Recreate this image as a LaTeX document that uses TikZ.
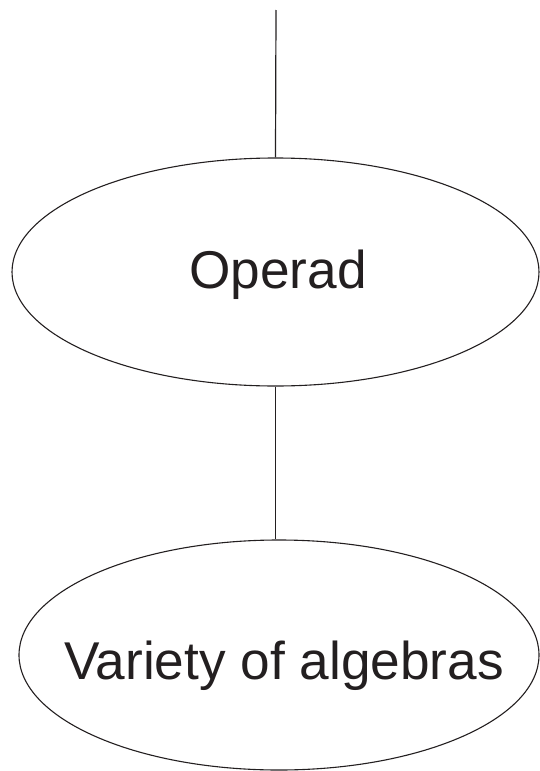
\documentclass[tikz,border=0pt]{standalone}
\usepackage{fontspec}
\setmainfont{Liberation Sans}
\usetikzlibrary{shapes.geometric}
\definecolor{ink}{HTML}{231F20}
\begin{document}
\begin{tikzpicture}[x=1pt,y=-1pt,
  oval/.style={draw=ink,line width=1.1pt,ellipse,inner sep=0pt},
  lbl/.style={inner sep=0pt,anchor=base,text=ink,font=\fontsize{53.2}{60}\selectfont},
  wire/.style={draw=ink,line width=1.2pt}]
\useasboundingbox (0,0) rectangle (540,771);
\node[oval,minimum width=527pt,minimum height=228pt] (e1) at (275.5,272) {};
\node[oval,minimum width=520pt,minimum height=230pt] (e2) at (279,655) {};
\node[lbl] (t1) at (278,288) {Operad};
\node[lbl] (t2) at (284,679) {Variety of algebras};
\coordinate (top) at (276,10);
\draw[wire] (top) -- (e1.north);
\draw[wire] (e1.south) -- (e2.north -| e1.south);
\end{tikzpicture}
\end{document}
